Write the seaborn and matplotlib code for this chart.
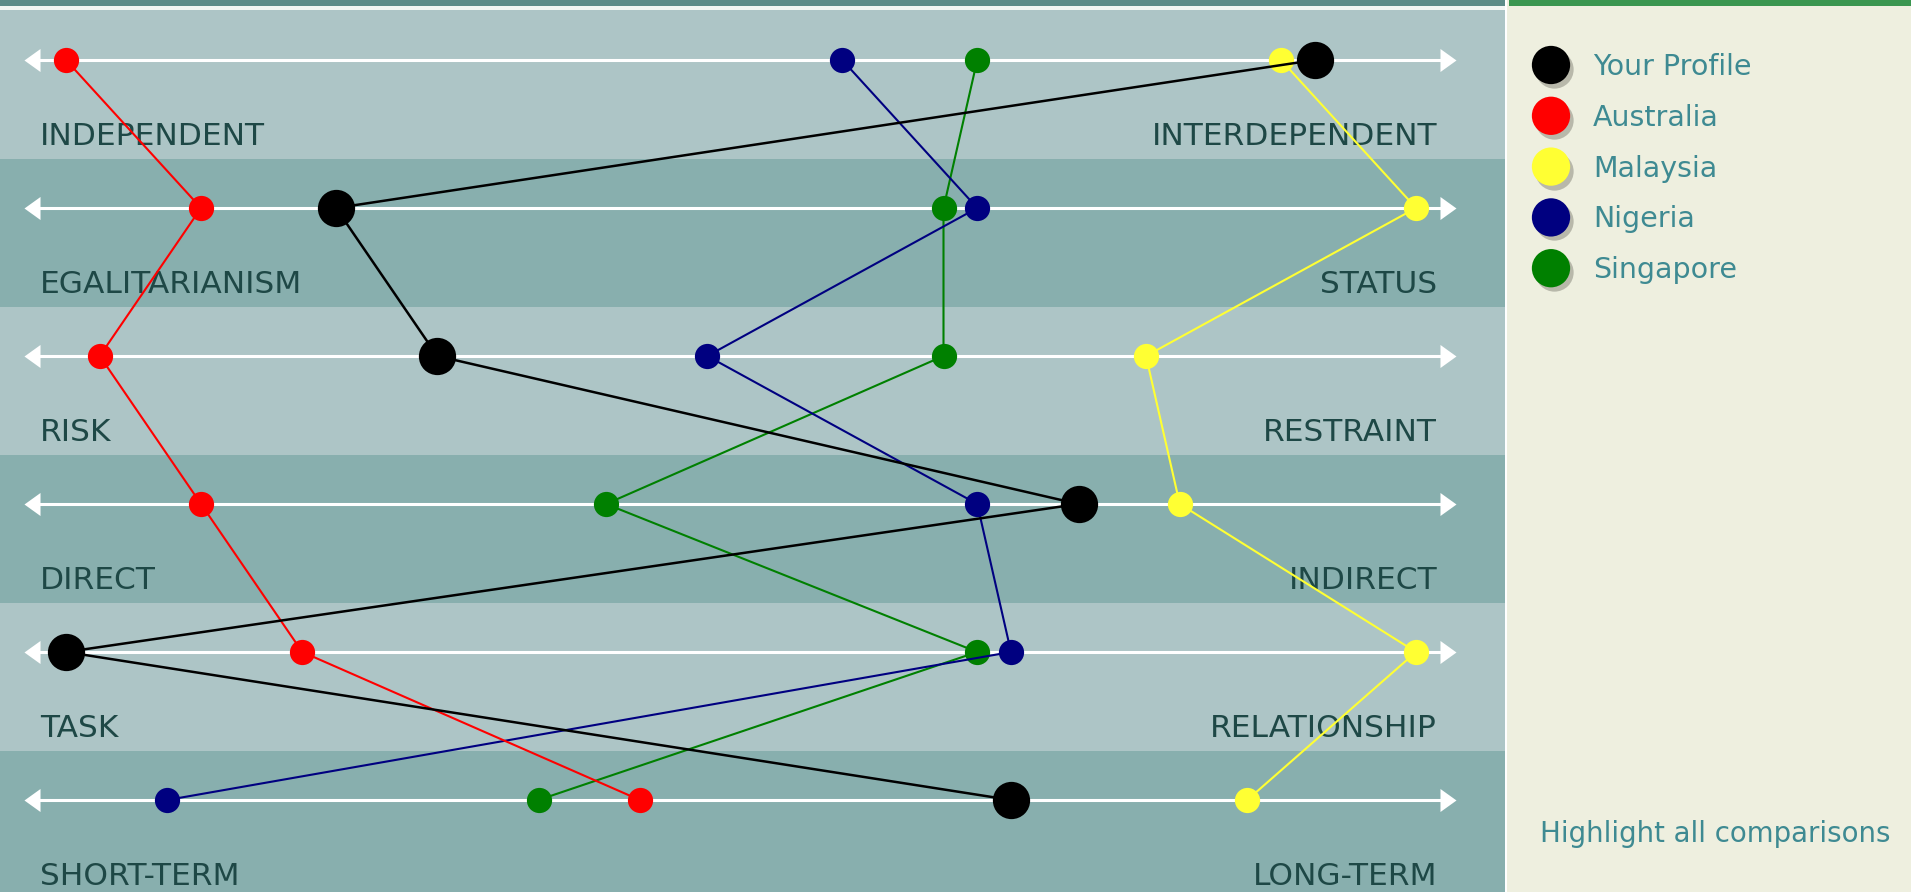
import matplotlib
matplotlib.use("Agg")
import matplotlib.pyplot as plt
from matplotlib.patches import Rectangle
from matplotlib.path import Path
import numpy as np
import pandas as pd
import seaborn as sns

# ---------------- data (0-40 scale) ----------------
left_labels = ["INDEPENDENT", "EGALITARIANISM", "RISK", "DIRECT", "TASK", "SHORT-TERM"]
right_labels = ["INTERDEPENDENT", "STATUS", "RESTRAINT", "INDIRECT", "RELATIONSHIP", "LONG-TERM"]
series_names = ["Your Profile", "Australia", "Malaysia", "Nigeria", "Singapore"]
your_profile = [37, 8, 11, 30, 0, 28]
australia = [0, 4, 1, 4, 7, 17]
malaysia = [36, 40, 32, 33, 40, 35]
nigeria = [23, 27, 19, 27, 28, 3]
singapore = [27, 26, 26, 16, 27, 14]
series_colors = ["#000000", "#FF0000", "#FFFF33", "#000080", "#008000"]
highlight_text = "Highlight all comparisons"

values = [your_profile, australia, malaysia, nigeria, singapore]
rows = list(range(len(left_labels)))
df = pd.DataFrame({
    "series": np.repeat(series_names, len(rows)),
    "row": rows * len(series_names),
    "value": np.concatenate(values),
})

# ---------------- layout ----------------
W, H = 1911, 892
PANEL_X = 1505
PX0, PX_PER = 66.0, 33.75      # pixel of value 0, pixels per unit
ROW0, ROW_H = 60.0, 148.0      # pixel of first row line, row pitch

fig = plt.figure(figsize=(W / 100, H / 100), dpi=100)
fig.patch.set_facecolor("#EEEFDF")
sns.set_style("white")
plt.rcParams["font.family"] = ["DejaVu Sans"]

ax = fig.add_axes([0, 0, PANEL_X / W, 1])
ax.set_xlim(-PX0 / PX_PER, (PANEL_X - PX0) / PX_PER)
ax.set_ylim((H - ROW0) / ROW_H, -ROW0 / ROW_H)
ax.axis("off")

light, dark = "#ADC5C6", "#88AFAE"
for i in rows:
    top = i - 49 / ROW_H if i > 0 else -ROW0 / ROW_H
    ax.axhspan(top, i + 99 / ROW_H, color=light if i % 2 == 0 else dark, lw=0, zorder=0)

# axis arrows
tri_l = Path([(-8, 0), (8, 11.5), (8, -11.5), (-8, 0)], closed=True)
tri_r = Path([(8, 0), (-8, 11.5), (-8, -11.5), (8, 0)], closed=True)
a_lo = (32.5 - PX0) / PX_PER
a_hi = (1448 - PX0) / PX_PER
for i in rows:
    ax.plot([a_lo, a_hi], [i, i], color="white", lw=2.2, zorder=1, solid_capstyle="butt")
    ax.plot([a_lo], [i], marker=tri_l, ms=16.6, color="white", mew=0, zorder=1)
    ax.plot([a_hi], [i], marker=tri_r, ms=16.6, color="white", mew=0, zorder=1)

lab_color = "#1E4846"
lx = (40 - PX0) / PX_PER
rx = (1437 - PX0) / PX_PER
for i in rows:
    ax.text(lx, i + 85 / ROW_H, left_labels[i], ha="left", va="baseline",
            fontsize=22.5, color=lab_color, zorder=1.5)
    ax.text(rx, i + 85 / ROW_H, right_labels[i], ha="right", va="baseline",
            fontsize=22.5, color=lab_color, zorder=1.5)

# series: draw in reverse so Your Profile on top
for k in reversed(range(len(series_names))):
    name = series_names[k]
    sub = df[df["series"] == name]
    is_me = k == 0
    z = 2 + (len(series_names) - k)
    sns.lineplot(data=sub, x="value", y="row", sort=False, estimator=None,
                 color=series_colors[k], lw=1.8 if is_me else 1.5, ax=ax,
                 legend=False, zorder=z)
    sns.scatterplot(data=sub, x="value", y="row", color=series_colors[k],
                    s=720 if is_me else 330, linewidth=0, ax=ax, legend=False,
                    zorder=z + 0.5)
ax.set_xlabel("")
ax.set_ylabel("")

# ---------------- right panel / top strips ----------------
ax2 = fig.add_axes([0, 0, 1, 1])
ax2.set_xlim(0, W)
ax2.set_ylim(H, 0)
ax2.axis("off")
ax2.patch.set_alpha(0)
ax2.add_patch(Rectangle((0, 0), PANEL_X, 6, color="#5C8C89", lw=0))
ax2.add_patch(Rectangle((0, 6), PANEL_X, 4, color="#F2F6F4", lw=0))
ax2.add_patch(Rectangle((PANEL_X + 4, 0), W - PANEL_X, 6, color="#3A9650", lw=0))
ax2.add_patch(Rectangle((PANEL_X, 0), 2, H, color="#FFFFFF", lw=0))

leg_x, leg_y0, leg_dy = 1551, 65, 50.8
leg_y = [leg_y0 + j * leg_dy for j in range(len(series_names))]
sns.scatterplot(x=[leg_x + 3] * 5, y=[y + 4 for y in leg_y], color="#8C8C80",
                alpha=0.55, s=760, linewidth=0, ax=ax2, legend=False)
sns.scatterplot(x=[leg_x] * 5, y=leg_y, hue=series_names, palette=series_colors,
                s=760, linewidth=0, ax=ax2, legend=False)
for j, name in enumerate(series_names):
    ax2.text(1593, leg_y[j] + 10, name, fontsize=20.5, color="#3E8A92",
             ha="left", va="baseline")
ax2.text(1540, 842, highlight_text, fontsize=19.9, color="#3E8A92",
         ha="left", va="baseline")
ax2.set_xlabel("")
ax2.set_ylabel("")

fig.savefig("out.png", dpi=100)
